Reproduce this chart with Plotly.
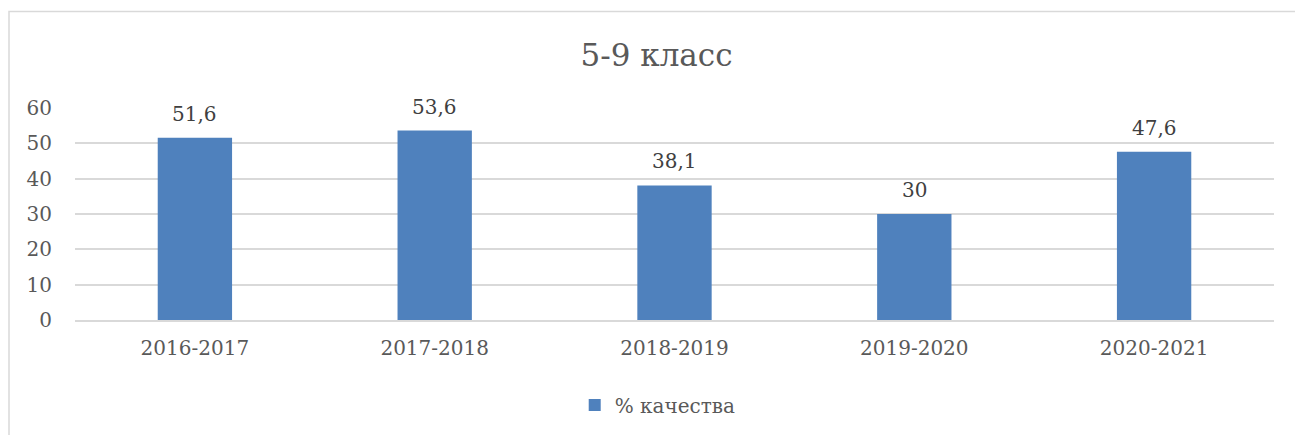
import plotly.graph_objects as go

categories = ["2016-2017", "2017-2018", "2018-2019", "2019-2020", "2020-2021"]
values = [51.6, 53.6, 38.1, 30, 47.6]
labels = ["51,6", "53,6", "38,1", "30", "47,6"]
series_name = "% качества"
title = "5-9 класс"

FONT = "DejaVu Serif"
TXT = "#595959"

fig = go.Figure()
fig.add_trace(go.Bar(
    x=categories, y=values, name=series_name,
    marker=dict(color="#4F81BD", line=dict(width=0)),
    showlegend=True,
))

annotations = [
    dict(x=c, y=v, text=t, xref="x", yref="y", showarrow=False,
         yanchor="bottom", yshift=10,
         font=dict(family=FONT, size=20, color="#404040"))
    for c, v, t in zip(categories, values, labels)
]

fig.update_layout(
    width=1295, height=435,
    margin=dict(l=75, r=21, t=108, b=114),
    paper_bgcolor="white", plot_bgcolor="white",
    bargap=0.69,
    title=dict(text=title, x=0.507, xanchor="center", y=1 - 55/435, yanchor="middle",
               font=dict(family=FONT, size=31, color=TXT)),
    font=dict(family=FONT, color=TXT),
    legend=dict(orientation="h", x=0.486, xanchor="center", y=-0.394, yanchor="middle",
                font=dict(family=FONT, size=20, color=TXT), itemwidth=30),
    xaxis=dict(showgrid=False, showline=True, linecolor="#d9d9d9", linewidth=1.5,
               tickfont=dict(family=FONT, size=20, color=TXT), ticks="",
               ticklabelstandoff=9),
    yaxis=dict(range=[0, 60], dtick=10, showgrid=True, gridcolor="#d9d9d9", gridwidth=1.5,
               zeroline=False, showline=False, ticks="",
               tickfont=dict(family=FONT, size=20, color=TXT), ticklabelstandoff=22),
    annotations=annotations,
    shapes=[dict(type="rect", xref="paper", yref="paper",
                 x0=(9-75)/1199, x1=1.2, y0=-2, y1=(321-11)/213,
                 line=dict(color="#d9d9d9", width=1.5), fillcolor="rgba(0,0,0,0)", layer="below")],
)

fig.write_html("out.html", config={"displayModeBar": False},
               post_script="document.body.style.margin='0px';document.body.style.overflow='hidden';")
